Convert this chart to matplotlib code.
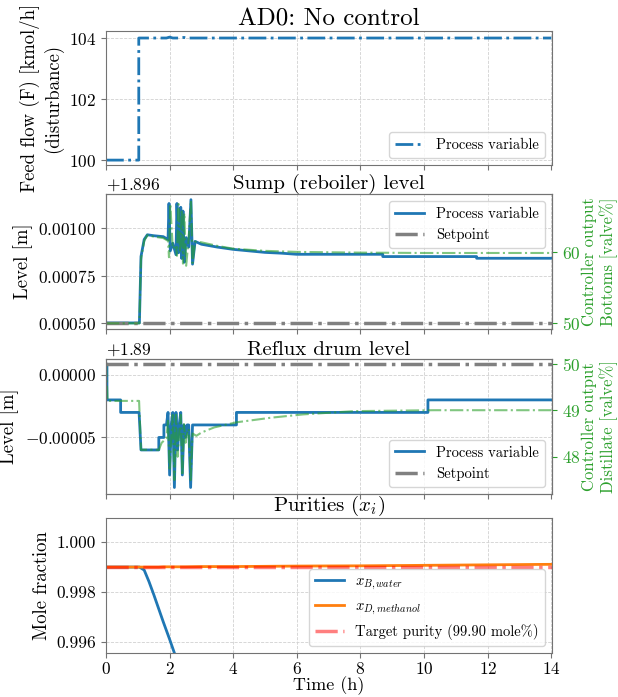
import numpy as np
import matplotlib
matplotlib.use('Agg')
import matplotlib.pyplot as plt
from matplotlib.ticker import ScalarFormatter

plt.rcParams['font.family'] = 'serif'
plt.rcParams['font.serif'] = ['cmr10']
plt.rcParams['mathtext.fontset'] = 'cm'
plt.rcParams['axes.formatter.use_mathtext'] = True
plt.rcParams['axes.edgecolor'] = '0.45'
plt.rcParams['xtick.color'] = '0.45'
plt.rcParams['ytick.color'] = '0.45'
plt.rcParams['xtick.labelcolor'] = 'black'
plt.rcParams['ytick.labelcolor'] = 'black'

# feed flow disturbance (kmol/h)
feed_t = [0, 1.03, 1.03, 1.9, 2.0, 2.1, 2.35, 2.45, 2.55, 14.0]
feed_v = [100, 100, 104, 104, 104.03, 104, 104, 104.02, 104, 104]

# sump level, offset from 1.896 m
SUMP_OFFSET = 1.896
sump_t = [0, 1.05, 1.1, 1.2, 1.3, 1.5, 1.8, 1.95, 1.98, 2.02, 2.1, 2.2, 2.23, 2.28,
          2.32, 2.35, 2.38, 2.42, 2.46, 2.52, 2.6, 2.67, 2.72, 2.8, 3.0, 3.5, 4.0,
          4.5, 5.0, 5.5, 6.0, 8.7, 8.7, 11.65, 11.65, 14.0]
sump_pv = [0.0005, 0.0005, 0.00085, 0.00094, 0.000965, 0.00096, 0.000955, 0.00094,
           0.00113, 0.00088, 0.00092, 0.00086, 0.00113, 0.00087, 0.0009, 0.00111,
           0.00084, 0.00109, 0.00082, 0.00095, 0.0009, 0.00115, 0.00081, 0.00093,
           0.000915, 0.0009, 0.000888, 0.00088, 0.000872, 0.000868, 0.000862,
           0.000862, 0.00085, 0.00085, 0.000841, 0.000841]
sump_sp = 0.0005
sump_co_t = [0, 1.05, 1.1, 1.2, 1.3, 1.5, 1.8, 1.95, 1.98, 2.02, 2.1, 2.2, 2.23, 2.28,
             2.32, 2.35, 2.38, 2.42, 2.46, 2.52, 2.6, 2.67, 2.72, 2.8, 3.0, 3.5, 4.0,
             5.0, 6.0, 8.0, 10.0, 12.0, 14.0]
sump_co = [50, 50, 59.0, 61.6, 62.4, 62.2, 62.0, 61.6, 59.3, 66.8, 60.5, 61.0, 59.5,
           66.8, 60.0, 61.5, 66.0, 58.4, 65.5, 58.1, 62.0, 67.3, 58.5, 61.5, 61.4,
           60.9, 60.5, 60.2, 60.05, 59.95, 59.9, 59.9, 59.9]

# reflux drum level, offset from 1.89 m
DRUM_OFFSET = 1.89
drum_t = [0, 0.03, 0.03, 0.46, 0.46, 1.04, 1.1, 1.66, 1.66, 1.82, 1.82, 1.9, 1.95,
          2.0, 2.05, 2.1, 2.15, 2.2, 2.25, 2.3, 2.35, 2.4, 2.45, 2.5, 2.55, 2.6, 2.66,
          2.72, 2.84, 4.1, 4.1, 10.12, 10.12, 14.0]
drum_pv = [0.0000087, 0.0000087, -0.00002, -0.00002, -0.00003, -0.00003, -0.00006,
           -0.00006, -0.00005, -0.00005, -0.00004, -0.00004, -0.00003, -0.00008,
           -0.00004, -0.00003, -0.00009, -0.00003, -0.00006, -0.00004, -0.00003,
           -0.00008, -0.00004, -0.00005, -0.00004, -0.00004, -0.00009, -0.00004,
           -0.00004, -0.00004, -0.00003, -0.00003, -0.00002, -0.00002]
drum_sp = 0.0000087
drum_co_t = [0, 0.05, 1.04, 1.1, 1.66, 1.75, 1.9, 1.95, 2.0, 2.05, 2.1, 2.15, 2.2, 2.25,
             2.3, 2.35, 2.4, 2.45, 2.5, 2.55, 2.6, 2.66, 2.72, 2.84, 3.0, 3.4, 4.1,
             5.2, 6.2, 7.8, 10.3, 14.0]
drum_co = [50, 49.2, 49.2, 48.15, 48.15, 48.3, 48.4, 48.8, 47.7, 48.4, 48.9, 47.5,
           48.9, 48.0, 48.5, 48.9, 47.6, 48.7, 48.3, 48.5, 48.6, 47.5, 48.5, 48.45,
           48.52, 48.63, 48.74, 48.84, 48.91, 48.98, 49.0, 49.0]

# purities
pur_t = [0, 1.05, 1.2, 1.35, 1.5, 1.65, 1.8, 1.9, 2.0, 2.15, 2.3, 2.5, 3.0, 4.0, 6.0,
         8.0, 10.0, 12.0, 14.0]
x_b = [0.999, 0.999, 0.99888, 0.99842, 0.9979, 0.99735, 0.9968, 0.99645, 0.9961,
       0.99555, 0.995, 0.9942, 0.9922, 0.9882, 0.9802, 0.9722, 0.9642, 0.9562, 0.9482]
x_d = [0.999, 0.999, 0.999, 0.999, 0.999, 0.999, 0.99901, 0.99901, 0.99901, 0.99901,
       0.99901, 0.99901, 0.99902, 0.99902, 0.99904, 0.99905, 0.99907, 0.99909, 0.99911]
target = 0.999

GREEN = 'tab:green'
TICK_FS = 12.5
LAB_FS = 13.5
TIT_FS = 15
LEG_FS = 10.5

fig = plt.figure(figsize=(6.18, 6.97), dpi=100)
W, H = 618, 697
left, width = 106 / W, 446 / W
tops = [31, 194, 359, 518]
bottoms = [165, 329, 494, 653]
axes = [fig.add_axes([left, 1 - b / H, width, (b - t) / H]) for t, b in zip(tops, bottoms)]
ax1, ax2, ax3, ax4 = axes

for ax in axes:
    ax.set_xlim(0, 14.02)
    ax.set_xticks(np.arange(0, 15, 2))
    ax.grid(True, linestyle='--', color='0.82', linewidth=0.6)
    ax.tick_params(labelsize=TICK_FS)
for ax in axes[:3]:
    ax.tick_params(labelbottom=False)

# feed
ax1.plot(feed_t, feed_v, '-.', color='tab:blue', lw=2, label='Process variable')
ax1.set_ylim(99.84, 104.23)
ax1.set_yticks([100, 102, 104])
ax1.set_ylabel('Feed flow (F) [kmol/h]\n(disturbance)', fontsize=LAB_FS)
ax1.set_title('AD0: No control', fontsize=18, pad=3)
ax1.legend(loc='lower right', fontsize=LEG_FS)

# sump
sump_abs = SUMP_OFFSET + np.array(sump_pv)
ax2.plot(sump_t, sump_abs, '-', color='tab:blue', lw=2, label='Process variable')
ax2.plot([0, 14.02], [SUMP_OFFSET + sump_sp] * 2, '-.', color='grey', lw=2.5, label='Setpoint')
ax2.set_ylim(SUMP_OFFSET + 0.000468, SUMP_OFFSET + 0.00118)
ax2.set_yticks(SUMP_OFFSET + np.array([0.0005, 0.00075, 0.001]))
fmt2 = ScalarFormatter(useOffset=SUMP_OFFSET, useMathText=True)
ax2.yaxis.set_major_formatter(fmt2)
ax2.yaxis.get_offset_text().set_fontsize(TICK_FS)
ax2.set_ylabel('Level [m]', fontsize=LAB_FS)
ax2.set_title('Sump (reboiler) level', fontsize=TIT_FS, pad=3)
ax2.legend(loc='upper right', fontsize=LEG_FS)
ax2r = ax2.twinx()
ax2r.plot(sump_co_t, sump_co, '-.', color=GREEN, lw=1.5, alpha=0.6)
ax2r.set_ylim(49.2, 68.2)
ax2r.set_yticks([50, 60])
ax2r.tick_params(axis='y', colors=GREEN, labelcolor=GREEN, labelsize=TICK_FS)
ax2r.set_ylabel('Controller output\nBottoms [valve%]', color=GREEN, fontsize=12,
                labelpad=1)

# reflux drum
drum_abs = DRUM_OFFSET + np.array(drum_pv)
ax3.plot(drum_t, drum_abs, '-', color='tab:blue', lw=2, label='Process variable')
ax3.plot([0, 14.02], [DRUM_OFFSET + drum_sp] * 2, '-.', color='grey', lw=2.5, label='Setpoint')
ax3.set_ylim(DRUM_OFFSET - 0.0000952, DRUM_OFFSET + 0.0000127)
ax3.set_yticks(DRUM_OFFSET + np.array([-0.00005, 0.0]))
fmt3 = ScalarFormatter(useOffset=DRUM_OFFSET, useMathText=True)
ax3.yaxis.set_major_formatter(fmt3)
ax3.yaxis.get_offset_text().set_fontsize(TICK_FS)
ax3.set_ylabel('Level [m]', fontsize=LAB_FS)
ax3.set_title('Reflux drum level', fontsize=TIT_FS, pad=3)
ax3.legend(loc='lower right', fontsize=LEG_FS)
ax3r = ax3.twinx()
ax3r.plot(drum_co_t, drum_co, '-.', color=GREEN, lw=1.5, alpha=0.6)
ax3r.set_ylim(47.2, 50.1)
ax3r.set_yticks([48, 49, 50])
ax3r.tick_params(axis='y', colors=GREEN, labelcolor=GREEN, labelsize=TICK_FS)
ax3r.set_ylabel('Controller output\nDistillate [valve%]', color=GREEN, fontsize=12,
                labelpad=1)

# purities
ax4.plot(pur_t, x_b, '-', color='tab:blue', lw=2, label='$x_{B,water}$')
ax4.plot(pur_t, x_d, '-', color='tab:orange', lw=2, label='$x_{D,methanol}$')
ax4.plot([0, 14.02], [target] * 2, '-.', color='red', alpha=0.5, lw=2.5,
         label='Target purity (99.90 mole%)')
ax4.set_ylim(0.99555, 1.00097)
ax4.set_yticks([0.996, 0.998, 1.0])
ax4.yaxis.set_major_formatter(plt.FormatStrFormatter('%.3f'))
ax4.tick_params(axis='x', pad=2)
ax4.set_ylabel('Mole fraction', fontsize=LAB_FS)
ax4.set_xlabel('Time (h)', fontsize=13, labelpad=0)
ax4.set_title('Purities ($x_i$)', fontsize=TIT_FS, pad=3)
ax4.legend(loc='lower right', fontsize=LEG_FS)

fig.savefig('out.png', dpi=100)
